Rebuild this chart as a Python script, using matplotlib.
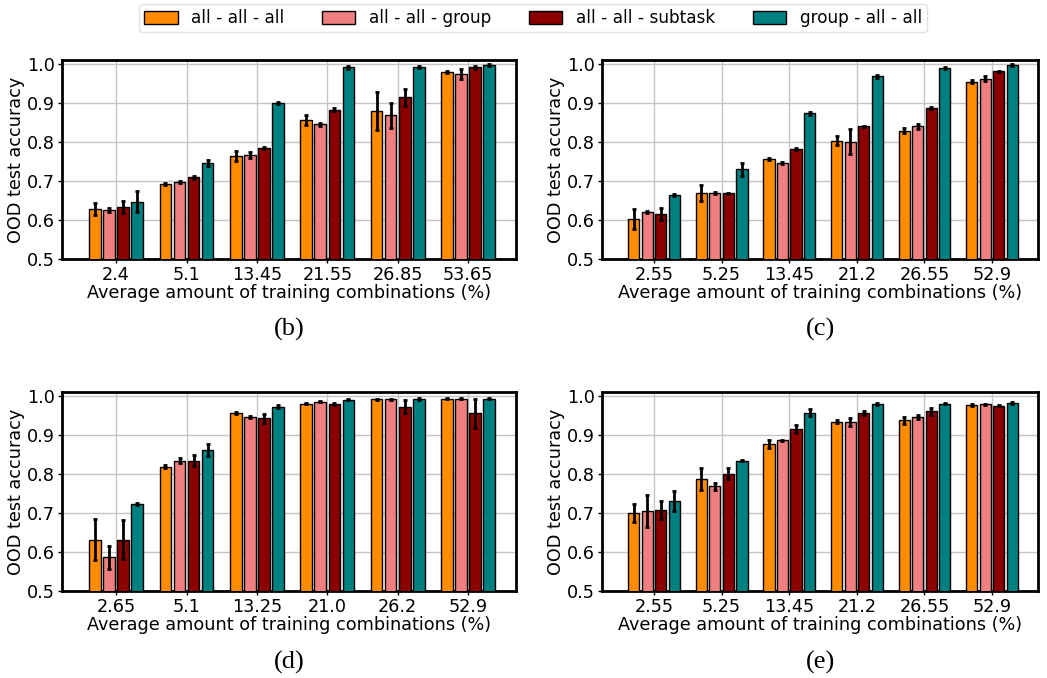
import numpy as np
import matplotlib
matplotlib.use('Agg')
import matplotlib.pyplot as plt

series = ['all - all - all', 'all - all - group', 'all - all - subtask', 'group - all - all']
colors = ['darkorange', 'lightcoral', 'darkred', 'teal']

# panel (b)
labels_b = ['2.4', '5.1', '13.45', '21.55', '26.85', '53.65']
mean_b = [
    [0.628, 0.692, 0.764, 0.856, 0.879, 0.979],
    [0.625, 0.697, 0.766, 0.845, 0.868, 0.974],
    [0.633, 0.709, 0.785, 0.883, 0.914, 0.991],
    [0.647, 0.746, 0.899, 0.991, 0.992, 0.997],
]
err_b = [
    [0.015, 0.003, 0.014, 0.012, 0.048, 0.003],
    [0.005, 0.003, 0.008, 0.003, 0.033, 0.013],
    [0.015, 0.003, 0.003, 0.003, 0.022, 0.003],
    [0.027, 0.008, 0.003, 0.003, 0.003, 0.002],
]

# panel (c)
labels_c = ['2.55', '5.25', '13.45', '21.2', '26.55', '52.9']
mean_c = [
    [0.603, 0.669, 0.756, 0.803, 0.829, 0.954],
    [0.620, 0.669, 0.746, 0.800, 0.840, 0.962],
    [0.615, 0.668, 0.782, 0.840, 0.887, 0.981],
    [0.664, 0.730, 0.873, 0.968, 0.990, 0.997],
]
err_c = [
    [0.025, 0.021, 0.002, 0.011, 0.006, 0.004],
    [0.003, 0.003, 0.002, 0.032, 0.006, 0.006],
    [0.016, 0.002, 0.003, 0.002, 0.002, 0.002],
    [0.003, 0.017, 0.005, 0.004, 0.003, 0.002],
]

# panel (d)
labels_d = ['2.65', '5.1', '13.25', '21.0', '26.2', '52.9']
mean_d = [
    [0.632, 0.819, 0.956, 0.980, 0.991, 0.993],
    [0.587, 0.834, 0.946, 0.985, 0.991, 0.993],
    [0.632, 0.834, 0.942, 0.979, 0.972, 0.955],
    [0.723, 0.862, 0.972, 0.990, 0.992, 0.993],
]
err_d = [
    [0.052, 0.005, 0.002, 0.002, 0.002, 0.002],
    [0.029, 0.006, 0.002, 0.002, 0.002, 0.002],
    [0.050, 0.014, 0.012, 0.002, 0.017, 0.038],
    [0.002, 0.015, 0.004, 0.002, 0.002, 0.002],
]

# panel (e)
labels_e = ['2.55', '5.25', '13.45', '21.2', '26.55', '52.9']
mean_e = [
    [0.700, 0.787, 0.877, 0.934, 0.938, 0.977],
    [0.706, 0.768, 0.886, 0.933, 0.946, 0.978],
    [0.707, 0.801, 0.915, 0.956, 0.960, 0.975],
    [0.731, 0.834, 0.957, 0.979, 0.980, 0.982],
]
err_e = [
    [0.022, 0.027, 0.010, 0.003, 0.009, 0.002],
    [0.041, 0.010, 0.002, 0.011, 0.005, 0.002],
    [0.023, 0.013, 0.010, 0.006, 0.010, 0.002],
    [0.026, 0.002, 0.009, 0.002, 0.002, 0.002],
]

panels = [
    ('(b)', labels_b, mean_b, err_b),
    ('(c)', labels_c, mean_c, err_c),
    ('(d)', labels_d, mean_d, err_d),
    ('(e)', labels_e, mean_e, err_e),
]

# axes boxes in figure fractions: left, bottom, width, height
boxes = [
    [0.0592, 0.618, 0.4336, 0.2935],
    [0.575, 0.618, 0.4164, 0.2935],
    [0.0592, 0.128, 0.4336, 0.294],
    [0.575, 0.128, 0.4164, 0.294],
]

FS = 12.7


def draw_panel(ax, name, labels, means, errs):
    x = np.arange(len(labels))
    step = 0.2
    handles = []
    for i in range(len(series)):
        h = ax.bar(x + (i - 1.5) * step, means[i], width=0.165, color=colors[i],
                   edgecolor='black', linewidth=1.0, label=series[i], zorder=3,
                   yerr=errs[i], error_kw=dict(elinewidth=2, capsize=1.5,
                                               capthick=2, ecolor='black', zorder=4))
        handles.append(h)
    ax.set_xticks(x)
    ax.set_xticklabels(labels, fontsize=FS)
    ax.set_ylim(0.5, 1.01)
    ax.set_xlim(-0.77, len(labels) - 1 + 0.68)
    ax.set_yticks([0.5, 0.6, 0.7, 0.8, 0.9, 1.0])
    ax.set_yticklabels(['0.5', '0.6', '0.7', '0.8', '0.9', '1.0'], fontsize=FS)
    ax.grid(True, color='#c4c4c4', linewidth=1.0, zorder=0)
    ax.set_axisbelow(True)
    for s in ax.spines.values():
        s.set_linewidth(2)
    ax.tick_params(length=3, width=1, pad=2)
    ax.set_ylabel('OOD test accuracy', fontsize=FS, labelpad=1.5)
    ax.set_xlabel('Average amount of training combinations (%)', fontsize=FS, labelpad=0)
    ax.text(0.5, -0.355, name, transform=ax.transAxes, ha='center', va='center',
            fontsize=19, family='Liberation Serif')
    return handles


fig = plt.figure(figsize=(10.47, 6.78), dpi=100)
handles = None
for box, (name, labels, means, errs) in zip(boxes, panels):
    ax = fig.add_axes(box)
    handles = draw_panel(ax, name, labels, means, errs)

fig.legend(handles, series, loc='center', bbox_to_anchor=(0.509, 0.973), ncol=4,
           fontsize=12.2, frameon=True, handlelength=2.0, handleheight=0.8,
           columnspacing=2.2, borderpad=0.3, fancybox=True, edgecolor='#dddddd')

fig.savefig('out.png', dpi=100)
